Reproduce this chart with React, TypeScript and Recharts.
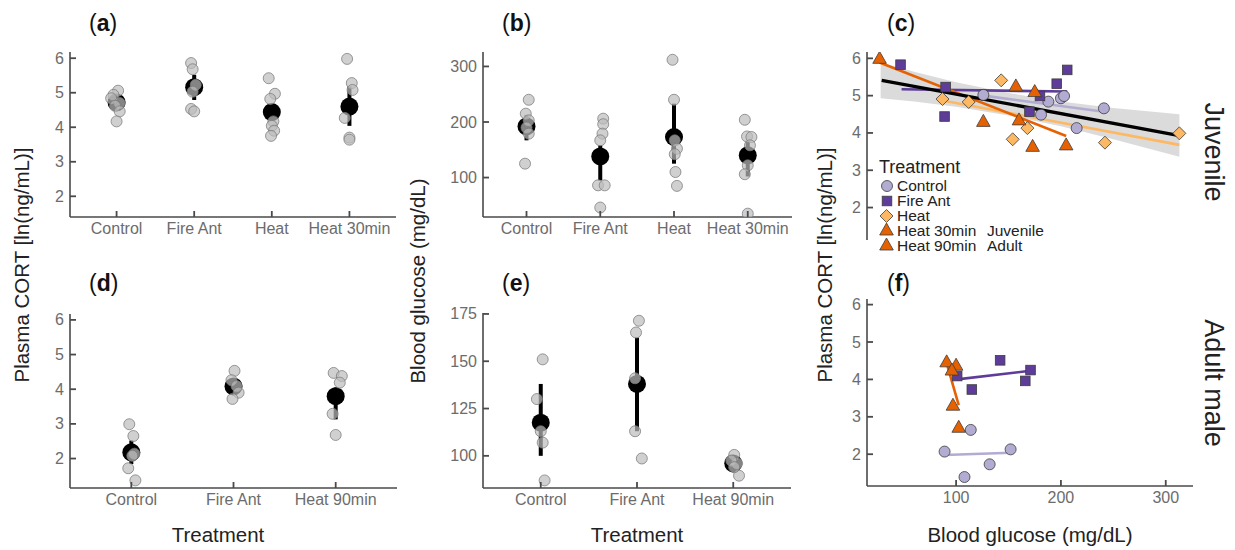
import React from "react";
import { Area, ComposedChart, ErrorBar, Line, Scatter, XAxis, YAxis } from "recharts";

const FONT = '"Liberation Sans", Arial, Helvetica, sans-serif';
const AXIS = "#4a4a4a";
const TICK_TEXT = "#6c6c6c";
const TITLE = "#222";

// PuOr palette used for the treatments
const C_CONTROL = "#b2abd2";
const C_FIREANT = "#5e3c99";
const C_HEAT = "#fdb863";
const C_HOT = "#e66101";

const juvTreatments = ["Control", "Fire Ant", "Heat", "Heat 30min"];
const adultTreatments = ["Control", "Fire Ant", "Heat 90min"];

// [treatment index, jitter, value]
const juvCortPoints: [number, number, number][] = [
  [1, 0.02, 5.06], [1, -0.04, 4.94], [1, -0.07, 4.84], [1, 0.04, 4.7], [1, -0.02, 4.62], [1, 0.04, 4.46], [1, 0, 4.17],
  [2, -0.04, 5.86], [2, -0.02, 5.68], [2, 0.02, 5.23], [2, -0.02, 5.03], [2, -0.04, 4.53], [2, 0, 4.46],
  [3, -0.04, 5.42], [3, 0.04, 4.97], [3, -0.02, 4.82], [3, 0.02, 4.17], [3, 0, 4.04], [3, 0.03, 3.9], [3, -0.01, 3.75],
  [4, -0.03, 5.98], [4, 0.03, 5.28], [4, 0.04, 5.08], [4, -0.06, 4.27], [4, 0, 3.7], [4, 0, 3.64],
];
const juvCortMean = [4.72, 5.16, 4.44, 4.6];
const juvCortCI: [number, number][] = [[0.14, 0.14], [0.37, 0.36], [0.2, 0.2], [0.56, 0.58]];

const juvGluPoints: [number, number, number][] = [
  [1, 0.03, 240], [1, -0.01, 215], [1, 0.03, 203], [1, 0, 190], [1, 0.03, 179], [1, -0.02, 125],
  [2, 0.04, 206], [2, 0.04, 196], [2, 0.03, 179], [2, 0, 167], [2, -0.03, 86], [2, 0.06, 86], [2, 0, 46],
  [3, -0.02, 312], [3, 0, 240], [3, 0.01, 167], [3, 0.04, 152], [3, 0.01, 142], [3, 0.02, 110], [3, 0.04, 85],
  [4, -0.04, 204], [4, -0.01, 174], [4, 0.05, 173], [4, 0.03, 158], [4, 0, 122], [4, -0.04, 106], [4, 0, 35],
];
const juvGluMean = [192, 138, 173, 140];
const juvGluCI: [number, number][] = [[25, 20], [43, 20], [48, 60], [38, 25]];

const adultCortPoints: [number, number, number][] = [
  [1, -0.02, 2.99], [1, 0.02, 2.65], [1, 0.03, 2.14], [1, 0.01, 2.08], [1, -0.03, 1.72], [1, 0.04, 1.37],
  [2, 0.01, 4.53], [2, -0.02, 4.26], [2, 0.03, 4.09], [2, 0.05, 3.9], [2, -0.01, 3.72],
  [3, -0.02, 4.47], [3, 0.06, 4.38], [3, 0.04, 4.19], [3, -0.03, 3.29], [3, 0, 2.68],
];
const adultCortMean = [2.18, 4.08, 3.8];
const adultCortCI: [number, number][] = [[0.34, 0.34], [0.15, 0.15], [0.67, 0.25]];

const adultGluPoints: [number, number, number][] = [
  [1, 0.02, 151], [1, -0.04, 130], [1, 0, 113], [1, 0.02, 107], [1, 0.04, 87],
  [2, 0.02, 171.4], [2, -0.01, 165.2], [2, -0.02, 141], [2, -0.02, 113], [2, 0.05, 98.6],
  [3, 0.01, 100.5], [3, 0.04, 96], [3, -0.02, 97.5], [3, 0.06, 89.5], [3, 0.01, 94],
];
const adultGluMean = [117.5, 138, 96];
const adultGluCI: [number, number][] = [[17.5, 20.5], [25, 24.5], [3, 3]];

// [blood glucose, plasma CORT]
const juvControl: [number, number][] = [[126, 5.02], [188, 4.84], [200, 4.93], [203, 4.99], [181, 4.49], [215, 4.13], [241, 4.66]];
const juvFireAnt: [number, number][] = [[47, 5.83], [90, 5.23], [89, 4.44], [206, 5.69], [196, 5.32], [180, 4.99], [170, 4.57]];
const juvHeat: [number, number][] = [[87, 4.91], [112, 4.83], [143, 5.41], [168, 4.13], [154, 3.83], [242, 3.74], [313, 3.99]];
const juvHeat30: [number, number][] = [[27, 6.0], [157, 5.26], [175, 5.11], [126, 4.31], [160, 4.35], [173, 3.64], [205, 3.68]];

const juvFitAll: [number, number][] = [[29, 5.41], [313, 3.93]];
const juvFitControl: [number, number][] = [[126, 5.0], [241, 4.57]];
const juvFitFireAnt: [number, number][] = [[48, 5.17], [206, 5.11]];
const juvFitHeat: [number, number][] = [[87, 4.87], [313, 3.68]];
const juvFitHeat30: [number, number][] = [[27, 5.89], [205, 3.92]];

const juvBandX = [28, 60, 100, 150, 200, 250, 313];
const juvBandLow = [4.93, 4.84, 4.7, 4.47, 4.18, 3.83, 3.36];
const juvBandHigh = [5.89, 5.64, 5.36, 5.07, 4.84, 4.67, 4.5];

const adultControl: [number, number][] = [[114, 2.65], [89, 2.07], [152, 2.13], [132, 1.73], [108, 1.39]];
const adultFireAnt: [number, number][] = [[142, 4.51], [101, 4.09], [115, 3.73], [166, 3.96], [171, 4.25]];
const adultHeat90: [number, number][] = [[91, 4.47], [100, 4.38], [96, 4.25], [97, 3.31], [102.5, 2.72]];

const adultFitControl: [number, number][] = [[89, 1.98], [152, 2.04]];
const adultFitFireAnt: [number, number][] = [[101, 4.0], [171, 4.23]];
const adultFitHeat90: [number, number][] = [[90, 4.53], [102.5, 3.31]];

const cortTicks = [2, 3, 4, 5, 6];
const juvGluTicks = [100, 200, 300];
const adultGluTicks = [100, 125, 150, 175];
const glucoseTicks = [100, 200, 300];

const X_TM = 17;
const Y_TM = 6;

const pts = (rows: [number, number, number][]) => rows.map(([g, dx, v]) => ({ x: g + dx, y: v }));
const xy = (rows: [number, number][]) => rows.map(([x, y]) => ({ x, y }));
const meanRows = (m: number[], ci: [number, number][]) => m.map((y, i) => ({ x: i + 1, y, err: ci[i] }));

function XTick(props: any) {
  const { x, y, payload, labels } = props;
  const label = labels ? labels[payload.value - 1] : payload.value;
  return (
    <g>
      <line x1={x} x2={x} y1={y - X_TM} y2={y - X_TM - 6} stroke={AXIS} strokeWidth={1.8} />
      <text x={x} y={y} textAnchor="middle" fill={TICK_TEXT} fontSize={16} fontFamily={FONT}>
        {label}
      </text>
    </g>
  );
}

function YTick(props: any) {
  const { x, y, payload } = props;
  return (
    <g>
      <line x1={x + Y_TM} x2={x + Y_TM + 6} y1={y} y2={y} stroke={AXIS} strokeWidth={1.8} />
      <text x={x} y={y + 5.5} textAnchor="end" fill={TICK_TEXT} fontSize={16} fontFamily={FONT}>
        {payload.value}
      </text>
    </g>
  );
}

const greyDot = (p: any) => (
  <circle cx={p.cx} cy={p.cy} r={5.5} fill="#bcbcbc" fillOpacity={0.7} stroke="#7a7a7a" strokeOpacity={0.75} strokeWidth={1} />
);
const meanDot = (p: any) => <circle cx={p.cx} cy={p.cy} r={9} fill="#000" />;

const circleMark = (p: any) => <circle cx={p.cx} cy={p.cy} r={5.5} fill={C_CONTROL} stroke="#3c3c3c" strokeWidth={0.8} />;
const squareMark = (p: any) => (
  <rect x={p.cx - 4.8} y={p.cy - 4.8} width={9.6} height={9.6} fill={C_FIREANT} stroke="#3c3c3c" strokeWidth={0.8} />
);
const diamondMark = (p: any) => (
  <polygon
    points={`${p.cx},${p.cy - 6.5} ${p.cx + 6.5},${p.cy} ${p.cx},${p.cy + 6.5} ${p.cx - 6.5},${p.cy}`}
    fill={C_HEAT}
    stroke="#3c3c3c"
    strokeWidth={0.8}
  />
);
const triangleMark = (p: any) => (
  <polygon
    points={`${p.cx},${p.cy - 7} ${p.cx + 6.8},${p.cy + 5} ${p.cx - 6.8},${p.cy + 5}`}
    fill={C_HOT}
    stroke="#3c3c3c"
    strokeWidth={0.8}
  />
);

type Box = [number, number, number, number]; // left, top, right, bottom of the plot area

function Panel({
  box,
  xDomain,
  yDomain,
  xTicks,
  yTicks,
  labels,
  hideX = false,
  children,
}: {
  box: Box;
  xDomain: [number, number];
  yDomain: [number, number];
  xTicks?: number[];
  yTicks: number[];
  labels?: string[];
  hideX?: boolean;
  children: React.ReactNode;
}) {
  const YW = 44;
  const MT = 10;
  const MR = 10;
  const XH = hideX ? 0 : 34;
  const w = box[2] - box[0];
  const h = box[3] - box[1];
  return (
    <div style={{ position: "absolute", left: box[0] - YW, top: box[1] - MT }}>
      <ComposedChart width={YW + w + MR} height={MT + h + XH} margin={{ top: MT, right: MR, bottom: 0, left: 0 }}>
        <XAxis
          dataKey="x"
          type="number"
          domain={xDomain}
          ticks={xTicks}
          interval={0}
          allowDataOverflow
          hide={hideX}
          height={XH}
          axisLine={{ stroke: AXIS, strokeWidth: 1.6 }}
          tickLine={false}
          tickSize={0}
          tickMargin={X_TM}
          tick={(p: any) => <XTick {...p} labels={labels} />}
        />
        <YAxis
          dataKey="y"
          type="number"
          domain={yDomain}
          ticks={yTicks}
          interval={0}
          allowDataOverflow
          width={YW}
          axisLine={{ stroke: AXIS, strokeWidth: 1.6 }}
          tickLine={false}
          tickSize={0}
          tickMargin={Y_TM}
          tick={(p: any) => <YTick {...p} />}
        />
        {children}
      </ComposedChart>
    </div>
  );
}

function PanelLabel({ x, y, letter }: { x: number; y: number; letter: string }) {
  return (
    <text x={x} y={y} fontSize={23} fontFamily={FONT} fill="#111">
      (<tspan fontWeight="bold">{letter}</tspan>)
    </text>
  );
}

export default function App() {
  const band = juvBandX.map((x, i) => ({ x, band: [juvBandLow[i], juvBandHigh[i]] }));
  const fitLine = (d: [number, number][], color: string, w = 2.6) => (
    <Line data={xy(d)} dataKey="y" stroke={color} strokeWidth={w} dot={false} isAnimationActive={false} />
  );

  return (
    <div style={{ position: "absolute", left: 0, top: 0, width: 1235, height: 550, background: "#fff", fontFamily: FONT }}>
      {/* (a) juvenile CORT */}
      <Panel box={[70, 52, 396, 217]} xDomain={[0.4, 4.6]} yDomain={[1.4, 6.18]} xTicks={[1, 2, 3, 4]} yTicks={cortTicks} labels={juvTreatments}>
        <Scatter data={meanRows(juvCortMean, juvCortCI)} shape={meanDot} isAnimationActive={false}>
          <ErrorBar dataKey="err" direction="y" width={0} stroke="#000" strokeWidth={4} isAnimationActive={false} />
        </Scatter>
        <Scatter data={pts(juvCortPoints)} shape={greyDot} isAnimationActive={false} />
      </Panel>

      {/* (b) juvenile glucose */}
      <Panel box={[483, 52, 792, 217]} xDomain={[0.41, 4.6]} yDomain={[29, 326]} xTicks={[1, 2, 3, 4]} yTicks={juvGluTicks} labels={juvTreatments}>
        <Scatter data={meanRows(juvGluMean, juvGluCI)} shape={meanDot} isAnimationActive={false}>
          <ErrorBar dataKey="err" direction="y" width={0} stroke="#000" strokeWidth={4} isAnimationActive={false} />
        </Scatter>
        <Scatter data={pts(juvGluPoints)} shape={greyDot} isAnimationActive={false} />
      </Panel>

      {/* (c) juvenile CORT vs glucose */}
      <Panel box={[867, 52, 1193, 240]} xDomain={[15, 326]} yDomain={[1.13, 6.17]} yTicks={cortTicks} hideX>
        <Area data={band} dataKey="band" type="linear" stroke="none" fill="#c8c8c8" fillOpacity={0.65} isAnimationActive={false} />
        {fitLine(juvFitControl, C_CONTROL)}
        {fitLine(juvFitFireAnt, C_FIREANT)}
        {fitLine(juvFitHeat, C_HEAT)}
        {fitLine(juvFitHeat30, C_HOT)}
        {fitLine(juvFitAll, "#000", 3.4)}
        <Scatter data={xy(juvControl)} shape={circleMark} isAnimationActive={false} />
        <Scatter data={xy(juvFireAnt)} shape={squareMark} isAnimationActive={false} />
        <Scatter data={xy(juvHeat)} shape={diamondMark} isAnimationActive={false} />
        <Scatter data={xy(juvHeat30)} shape={triangleMark} isAnimationActive={false} />
      </Panel>

      {/* (d) adult CORT */}
      <Panel box={[70, 314, 397, 488]} xDomain={[0.4, 3.6]} yDomain={[1.15, 6.17]} xTicks={[1, 2, 3]} yTicks={cortTicks} labels={adultTreatments}>
        <Scatter data={meanRows(adultCortMean, adultCortCI)} shape={meanDot} isAnimationActive={false}>
          <ErrorBar dataKey="err" direction="y" width={0} stroke="#000" strokeWidth={4} isAnimationActive={false} />
        </Scatter>
        <Scatter data={pts(adultCortPoints)} shape={greyDot} isAnimationActive={false} />
      </Panel>

      {/* (e) adult glucose */}
      <Panel box={[483, 313, 791, 488]} xDomain={[0.4, 3.6]} yDomain={[83, 175.5]} xTicks={[1, 2, 3]} yTicks={adultGluTicks} labels={adultTreatments}>
        <Scatter data={meanRows(adultGluMean, adultGluCI)} shape={meanDot} isAnimationActive={false}>
          <ErrorBar dataKey="err" direction="y" width={0} stroke="#000" strokeWidth={4} isAnimationActive={false} />
        </Scatter>
        <Scatter data={pts(adultGluPoints)} shape={greyDot} isAnimationActive={false} />
      </Panel>

      {/* (f) adult CORT vs glucose */}
      <Panel box={[867, 299, 1193, 486]} xDomain={[15, 326]} yDomain={[1.15, 6.15]} xTicks={glucoseTicks} yTicks={cortTicks}>
        {fitLine(adultFitControl, C_CONTROL)}
        {fitLine(adultFitFireAnt, C_FIREANT)}
        {fitLine(adultFitHeat90, C_HOT)}
        <Scatter data={xy(adultControl)} shape={circleMark} isAnimationActive={false} />
        <Scatter data={xy(adultFireAnt)} shape={squareMark} isAnimationActive={false} />
        <Scatter data={xy(adultHeat90)} shape={triangleMark} isAnimationActive={false} />
      </Panel>

      {/* titles, panel letters, facet strips and legend */}
      <svg width={1235} height={550} style={{ position: "absolute", left: 0, top: 0, pointerEvents: "none" }}>
        <PanelLabel x={89} y={31} letter="a" />
        <PanelLabel x={502} y={31} letter="b" />
        <PanelLabel x={887} y={31} letter="c" />
        <PanelLabel x={89} y={291} letter="d" />
        <PanelLabel x={502} y={291} letter="e" />
        <PanelLabel x={887} y={291} letter="f" />

        <text x={29} y={265} transform="rotate(-90 29 265)" textAnchor="middle" fontSize={20.5} fontFamily={FONT} fill={TITLE}>
          Plasma CORT [ln(ng/mL)]
        </text>
        <text x={425} y={281} transform="rotate(-90 425 281)" textAnchor="middle" fontSize={20.5} fontFamily={FONT} fill={TITLE}>
          Blood glucose (mg/dL)
        </text>
        <text x={832} y={265} transform="rotate(-90 832 265)" textAnchor="middle" fontSize={20.5} fontFamily={FONT} fill={TITLE}>
          Plasma CORT [ln(ng/mL)]
        </text>

        <text x={218} y={542} textAnchor="middle" fontSize={20.5} fontFamily={FONT} fill={TITLE}>Treatment</text>
        <text x={637} y={542} textAnchor="middle" fontSize={20.5} fontFamily={FONT} fill={TITLE}>Treatment</text>
        <text x={1030} y={542} textAnchor="middle" fontSize={20.5} fontFamily={FONT} fill={TITLE}>Blood glucose (mg/dL)</text>

        <text x={1205} y={152} transform="rotate(90 1205 152)" textAnchor="middle" fontSize={27} fontFamily={FONT} fill={TITLE}>
          Juvenile
        </text>
        <text x={1205} y={383} transform="rotate(90 1205 383)" textAnchor="middle" fontSize={27} fontFamily={FONT} fill={TITLE}>
          Adult male
        </text>

        <text x={879} y={173} fontSize={18} fontFamily={FONT} fill={TITLE}>Treatment</text>
        {circleMark({ cx: 887, cy: 186 })}
        <text x={897} y={191} fontSize={15.5} fontFamily={FONT} fill={TITLE}>Control</text>
        {squareMark({ cx: 887, cy: 201 })}
        <text x={897} y={206} fontSize={15.5} fontFamily={FONT} fill={TITLE}>Fire Ant</text>
        {diamondMark({ cx: 886.5, cy: 216 })}
        <text x={897} y={221} fontSize={15.5} fontFamily={FONT} fill={TITLE}>Heat</text>
        {triangleMark({ cx: 886.5, cy: 230 })}
        <text x={897} y={235.5} fontSize={15.5} fontFamily={FONT} fill={TITLE}>Heat 30min</text>
        <text x={987} y={235.5} fontSize={15.5} fontFamily={FONT} fill={TITLE}>Juvenile</text>
        {triangleMark({ cx: 886.5, cy: 245 })}
        <text x={897} y={250.5} fontSize={15.5} fontFamily={FONT} fill={TITLE}>Heat 90min</text>
        <text x={987} y={250.5} fontSize={15.5} fontFamily={FONT} fill={TITLE}>Adult</text>
      </svg>
    </div>
  );
}
